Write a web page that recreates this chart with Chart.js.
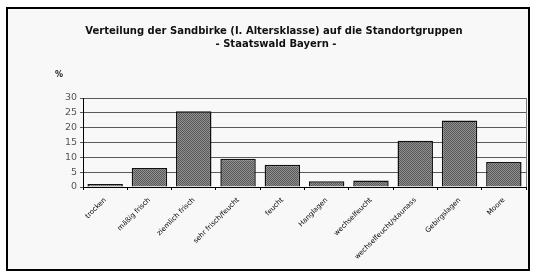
<!DOCTYPE html>
<html>
<head>
<meta charset="utf-8">
<script src="https://cdn.jsdelivr.net/npm/chart.js@4.4.0/dist/chart.umd.min.js"></script>
<style>
  html, body { margin: 0; padding: 0; background: #ffffff; }
  #wrap { position: absolute; left: 0; top: 0; width: 539px; height: 278px; }
  #frame { position: absolute; left: 6px; top: 7px; width: 524px; height: 264px; border: 2px solid #000; background: #f8f8f8; box-sizing: border-box; }
  canvas { position: absolute; left: 0; top: 0; }
</style>
</head>
<body>
<div id="wrap">
  <div id="frame"></div>
  <canvas id="chart" width="539" height="278"></canvas>
</div>
<script>
const titleLines = ['Verteilung der Sandbirke (I. Altersklasse) auf die Standortgruppen', '- Staatswald Bayern -'];
const categories = ['trocken', 'mäßig frisch', 'ziemlich frisch', 'sehr frisch/feucht', 'feucht', 'Hanglagen', 'wechselfeucht', 'wechselfeucht/staunass', 'Gebirgslagen', 'Moore'];
const shares = [1.0, 6.4, 25.5, 9.5, 7.5, 1.9, 2.2, 15.6, 22.4, 8.4];
const yTicks = [0, 5, 10, 15, 20, 25, 30];

// dotted grey fill like the old spreadsheet pattern
function makePattern() {
  const c = document.createElement('canvas');
  c.width = 2; c.height = 2;
  const p = c.getContext('2d');
  p.fillStyle = '#929292';
  p.fillRect(0, 0, 2, 2);
  p.fillStyle = '#575757';
  p.fillRect(0, 0, 1, 1);
  p.fillRect(1, 1, 1, 1);
  return p.createPattern(c, 'repeat');
}

const ctx = document.getElementById('chart').getContext('2d');

const extras = {
  id: 'extras',
  afterDraw(chart) {
    const c = chart.ctx;
    const a = chart.chartArea;
    c.save();
    c.fillStyle = '#111';
    c.textAlign = 'center';
    c.textBaseline = 'middle';
    c.font = 'bold 10px "DejaVu Sans"';
    c.fillText(titleLines[0], 274, 31);
    c.fillText(titleLines[1], 276, 44);
    c.textAlign = 'left';
    c.font = 'bold 8px "DejaVu Sans"';
    c.fillText('%', 55, 75);
    c.strokeStyle = '#777';
    c.lineWidth = 1;
    c.beginPath();
    c.moveTo(Math.round(a.right) + 0.5, a.top);
    c.lineTo(Math.round(a.right) + 0.5, a.bottom);
    c.stroke();
    c.restore();
  }
};

new Chart(ctx, {
  type: 'bar',
  data: {
    labels: categories,
    datasets: [{
      data: shares,
      backgroundColor: makePattern(),
      borderColor: '#111',
      borderWidth: 1.5,
      categoryPercentage: 0.8,
      barPercentage: 1.0
    }]
  },
  options: {
    responsive: false,
    animation: false,
    layout: { padding: { left: 0, right: 13, top: 98, bottom: 0 } },
    plugins: {
      legend: { display: false },
      title: { display: false },
      tooltip: { enabled: false }
    },
    scales: {
      x: {
        afterFit(s) { s.height = 91; },
        grid: { display: true, drawOnChartArea: false, drawTicks: true, tickLength: 3, color: '#000', offset: true },
        border: { color: '#000', width: 1 },
        ticks: {
          color: '#000',
          font: { family: 'DejaVu Sans', size: 7 },
          minRotation: 45,
          maxRotation: 45,
          autoSkip: false,
          padding: 6
        }
      },
      y: {
        min: 0,
        max: 30,
        afterFit(s) { s.width = 83; },
        afterBuildTicks(s) { s.ticks = yTicks.map(v => ({ value: v })); },
        grid: { color: '#5a5a5a', lineWidth: 1, drawTicks: true, tickLength: 3 },
        border: { color: '#000', width: 1 },
        ticks: {
          color: '#555',
          font: { family: 'DejaVu Sans', size: 9.5 },
          padding: 3
        }
      }
    }
  },
  plugins: [extras]
});
</script>
</body>
</html>
